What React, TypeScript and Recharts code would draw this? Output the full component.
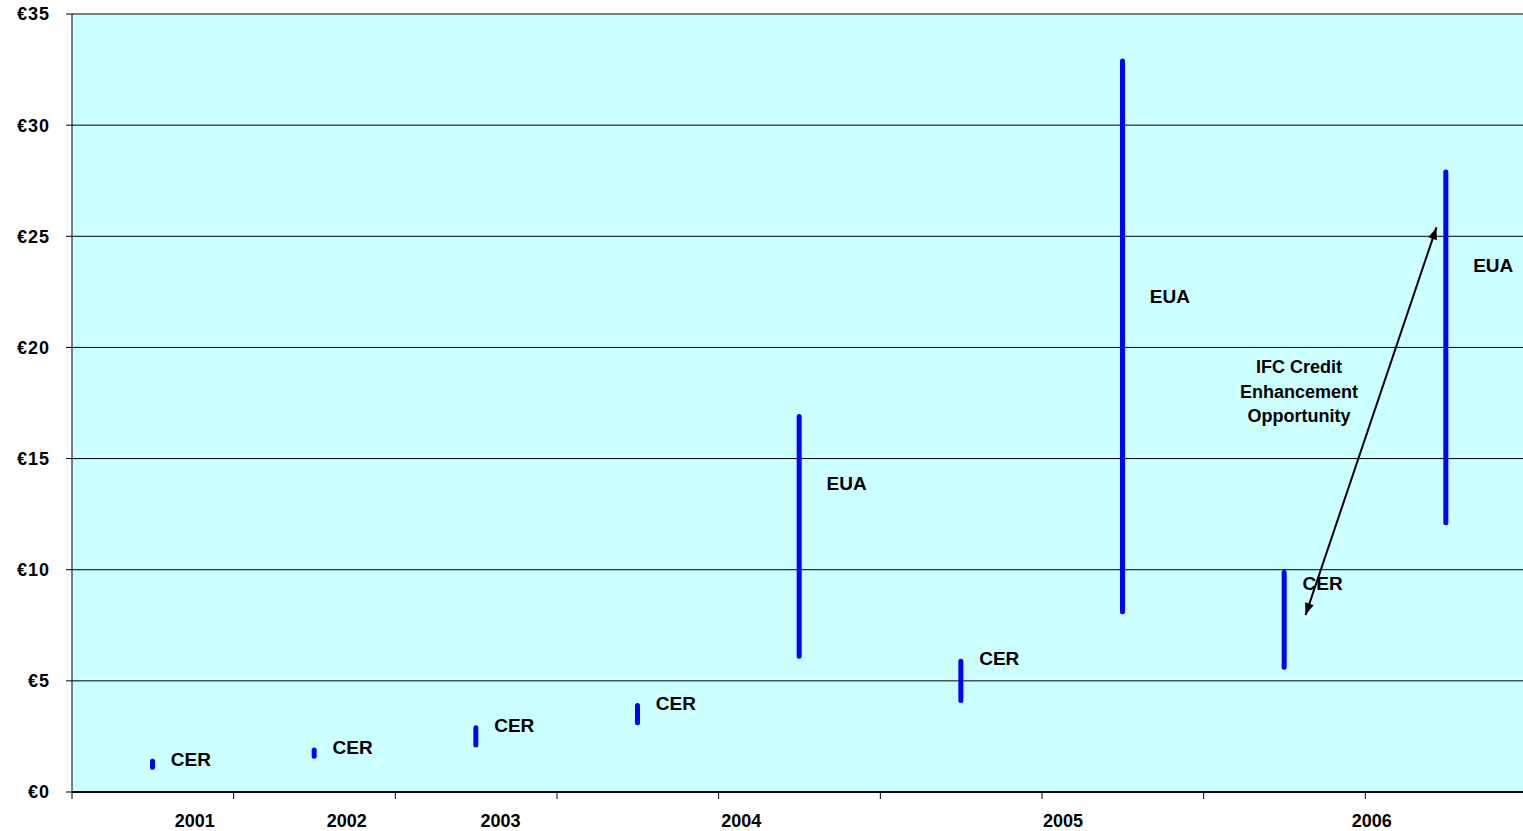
import { Bar, ComposedChart, CartesianGrid, Line, ReferenceDot, ReferenceLine, XAxis, YAxis } from "recharts"

// nine equal price windows along the x axis, slot n sits at n + 0.5
const slots = [0, 1, 2, 3, 4, 5, 6, 7, 8]
const lows = [1, 1.5, 2, 3, 6, 4, 8, 5.5, 12]
const highs = [1.5, 2, 3, 4, 17, 6, 33, 10, 28]
const markets = ["CER", "CER", "CER", "CER", "EUA", "CER", "EUA", "CER", "EUA"]
const labelAt = [1.45, 2.0, 3.0, 4.0, 13.9, 6.0, 22.3, 9.4, 23.7]

const years = ["2001", "2002", "2003", "2004", "2005", "2006"]
const yearAt = [0.76, 1.7, 2.65, 4.14, 6.13, 8.04]
const bandEdges = [0, 1, 2, 3, 4, 5, 6, 7, 8, 9]
const yTicks = [0, 5, 10, 15, 20, 25, 30, 35]

const arrowFrom = { x: 7.63, y: 7.96 }
const arrowTo = { x: 8.44, y: 25.4 }
const noteAt = { x: 7.59, y: 18.0 }
const noteLines = ["IFC Credit", "Enhancement", "Opportunity"]

const font = "'Liberation Sans', Arial, sans-serif"

const chartData = slots.map((s, i) => ({
  pos: s + 0.5,
  range: [lows[i], highs[i]],
  labelAt: labelAt[i],
}))

function MarketLabel(props: any) {
  const { cx, cy, index } = props
  if (cx == null || cy == null) return null
  const gap = markets[index] === "EUA" ? 27 : 18
  return (
    <text
      key={index}
      x={cx + gap}
      y={cy}
      dominantBaseline="central"
      fontFamily={font}
      fontWeight="bold"
      fontSize={19}
      fill="#000"
    >
      {markets[index]}
    </text>
  )
}

function head(x: number, y: number, fx: number, fy: number) {
  // arrow head at (x,y) pointing away from (fx,fy)
  const a = Math.atan2(y - fy, x - fx)
  const len = 12
  const w = 4.5
  const bx = x - len * Math.cos(a)
  const by = y - len * Math.sin(a)
  const px = -Math.sin(a) * w
  const py = Math.cos(a) * w
  return `${x},${y} ${bx + px},${by + py} ${bx - px},${by - py}`
}

function DoubleArrow(props: any) {
  const { x1, y1, x2, y2 } = props
  if ([x1, y1, x2, y2].some((v) => v == null)) return null
  return (
    <g>
      <line x1={x1} y1={y1} x2={x2} y2={y2} stroke="#000" strokeWidth={2} />
      <polygon points={head(x1, y1, x2, y2)} fill="#000" />
      <polygon points={head(x2, y2, x1, y1)} fill="#000" />
    </g>
  )
}

function Note(props: any) {
  const { cx, cy } = props
  return (
    <text x={cx} y={cy} textAnchor="middle" fontFamily={font} fontWeight="bold" fontSize={18} fill="#000">
      {noteLines.map((t, i) => (
        <tspan key={t} x={cx} y={cy + (i - 1) * 24.5} dominantBaseline="central">
          {t}
        </tspan>
      ))}
    </text>
  )
}

function YearLabel(props: any) {
  const { cx, cy, label } = props
  return (
    <text x={cx} y={cy + 29} textAnchor="middle" dominantBaseline="central" fontFamily={font} fontWeight="bold" fontSize={18} fill="#000">
      {label}
    </text>
  )
}

export default function App() {
  return (
    <div style={{ position: "absolute", left: 0, top: 0, width: 1523, height: 831, overflow: "hidden", background: "#fff" }}>
      <ComposedChart width={1527} height={831} data={chartData} margin={{ top: 14, right: 0, bottom: 0, left: 0 }}>
        <CartesianGrid vertical={false} stroke="#000" fill="#CCFFFF" fillOpacity={1} />
        <XAxis
          dataKey="pos"
          type="number"
          domain={[0, 9]}
          ticks={bandEdges}
          allowDataOverflow
          interval={0}
          tick={() => <g />}
          tickLine={{ stroke: "#000" }}
          tickSize={7}
          height={39}
          axisLine={{ stroke: "#000", strokeWidth: 2 }}
        />
        <YAxis
          domain={[0, 35]}
          ticks={yTicks}
          allowDataOverflow
          width={72}
          tickSize={6}
          tickMargin={16}
          stroke="#000"
          tickFormatter={(v: number) => `€${v}`}
          tick={{ fill: "#000", fontFamily: font, fontWeight: "bold", fontSize: 18, letterSpacing: 1 }}
        />
        <Bar dataKey="range" fill="#0000FF" barSize={5} radius={[2.5, 2.5, 2.5, 2.5]} isAnimationActive={false} />
        <Line dataKey="labelAt" stroke="none" dot={<MarketLabel />} activeDot={false} isAnimationActive={false} />
        {years.map((y, i) => (
          <ReferenceDot key={y} x={yearAt[i]} y={0} r={0} ifOverflow="visible" shape={<YearLabel label={y} />} />
        ))}
        <ReferenceLine segment={[arrowFrom, arrowTo]} shape={<DoubleArrow />} />
        <ReferenceDot x={noteAt.x} y={noteAt.y} r={0} shape={<Note />} />
      </ComposedChart>
    </div>
  )
}
